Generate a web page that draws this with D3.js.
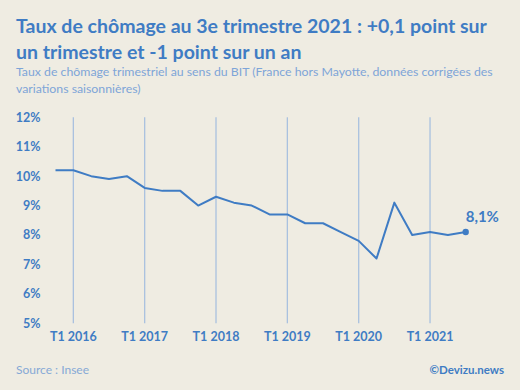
<!DOCTYPE html>
<html>
<head>
<meta charset="utf-8">
<script src="https://cdn.jsdelivr.net/npm/d3@7"></script>
<style>
  body { margin: 0; background: #efece2; }
  svg { display: block; font-family: Lato, "Open Sans", sans-serif; }
</style>
</head>
<body>
<div id="chart"></div>
<script>
// quarters from T4 2015 to T3 2021
var quarters = ["T4 2015",
  "T1 2016", "T2 2016", "T3 2016", "T4 2016",
  "T1 2017", "T2 2017", "T3 2017", "T4 2017",
  "T1 2018", "T2 2018", "T3 2018", "T4 2018",
  "T1 2019", "T2 2019", "T3 2019", "T4 2019",
  "T1 2020", "T2 2020", "T3 2020", "T4 2020",
  "T1 2021", "T2 2021", "T3 2021"];
var rates = [10.2,
  10.2, 10.0, 9.9, 10.0,
  9.6, 9.5, 9.5, 9.0,
  9.3, 9.1, 9.0, 8.7,
  8.7, 8.4, 8.4, 8.1,
  7.8, 7.2, 9.1, 8.0,
  8.1, 8.0, 8.1];
var yTicks = [5, 6, 7, 8, 9, 10, 11, 12];
var xTicks = ["T1 2016", "T1 2017", "T1 2018", "T1 2019", "T1 2020", "T1 2021"];

var svgWidth = 520;
var svgHeight = 390;
var blue = "#3f7cc4";

var svg = d3.select("#chart")
  .append("svg")
  .attr("width", svgWidth)
  .attr("height", svgHeight);

svg.append("rect")
  .attr("width", svgWidth)
  .attr("height", svgHeight)
  .attr("fill", "#efece2");

// titles
var title = svg.append("text")
  .attr("x", 16)
  .attr("fill", blue)
  .attr("font-size", 19.5)
  .attr("font-weight", "bold");
title.append("tspan").attr("x", 16).attr("y", 33).text("Taux de chômage au 3e trimestre 2021 : +0,1 point sur");
title.append("tspan").attr("x", 16).attr("y", 59).text("un trimestre et -1 point sur un an");

var subtitle = svg.append("text")
  .attr("fill", "#7ea5d8")
  .attr("font-size", 12.3);
subtitle.append("tspan").attr("x", 16).attr("y", 76).text("Taux de chômage trimestriel au sens du BIT (France hors Mayotte, données corrigées des");
subtitle.append("tspan").attr("x", 16).attr("y", 93).text("variations saisonnières)");

// scales
var x = d3.scalePoint()
  .domain(quarters)
  .range([55.5, 465.7]);

var y = d3.scaleLinear()
  .domain([5, 12])
  .range([323.3, 117.3]);

// vertical grid lines on T1 quarters
svg.append("g")
  .selectAll("line")
  .data(xTicks)
  .enter()
  .append("line")
  .attr("x1", d => x(d))
  .attr("x2", d => x(d))
  .attr("y1", y(12))
  .attr("y2", y(5))
  .attr("stroke", "#a9c1df")
  .attr("stroke-width", 1.3);

// x labels
svg.append("g")
  .selectAll("text")
  .data(xTicks)
  .enter()
  .append("text")
  .attr("x", d => x(d))
  .attr("y", 341)
  .attr("text-anchor", "middle")
  .attr("fill", blue)
  .attr("font-size", 12.5)
  .attr("font-weight", "bold")
  .text(d => d);

// y labels
svg.append("g")
  .selectAll("text")
  .data(yTicks)
  .enter()
  .append("text")
  .attr("x", 40.5)
  .attr("y", d => y(d))
  .attr("dy", "0.35em")
  .attr("text-anchor", "end")
  .attr("fill", blue)
  .attr("font-size", 12.5)
  .attr("font-weight", "bold")
  .text(d => d + "%");

// line
var line = d3.line()
  .x((d, i) => x(quarters[i]))
  .y(d => y(d));

svg.append("path")
  .datum(rates)
  .attr("d", line)
  .attr("fill", "none")
  .attr("stroke", blue)
  .attr("stroke-width", 2)
  .attr("stroke-linejoin", "round");

// last point
var last = rates.length - 1;
svg.append("circle")
  .attr("cx", x(quarters[last]))
  .attr("cy", y(rates[last]))
  .attr("r", 3.2)
  .attr("fill", blue);

svg.append("text")
  .attr("x", x(quarters[last]))
  .attr("y", y(rates[last]) - 10)
  .attr("fill", blue)
  .attr("font-size", 15)
  .attr("font-weight", "bold")
  .text(String(rates[last]).replace(".", ",") + "%");

// footer
svg.append("text")
  .attr("x", 16)
  .attr("y", 374)
  .attr("fill", "#86a9d6")
  .attr("font-size", 12)
  .text("Source : Insee");

svg.append("text")
  .attr("x", 504)
  .attr("y", 374)
  .attr("text-anchor", "end")
  .attr("fill", blue)
  .attr("font-size", 11.5)
  .attr("font-weight", "bold")
  .text("©Devizu.news");
</script>
</body>
</html>
